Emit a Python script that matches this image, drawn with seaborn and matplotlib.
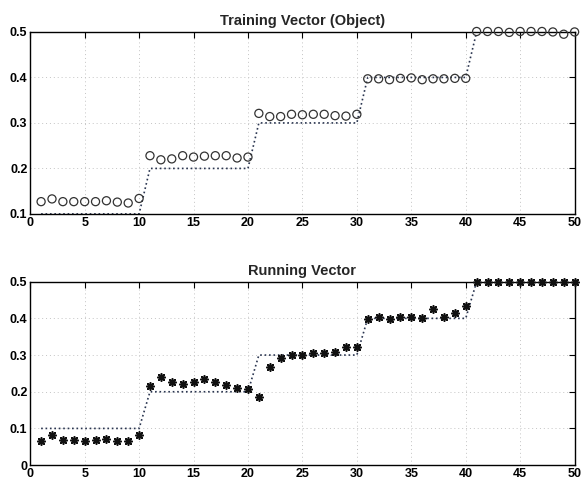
import numpy as np
import pandas as pd
import matplotlib
matplotlib.use("Agg")
import matplotlib.pyplot as plt
import seaborn as sns

# ── data ────────────────────────────────────────────────────
idx = list(range(1, 51))
target = [0.1] * 10 + [0.2] * 10 + [0.3] * 10 + [0.4] * 10 + [0.5] * 10

training = [0.127, 0.133, 0.127, 0.127, 0.127, 0.127, 0.129, 0.126, 0.124, 0.134,
            0.228, 0.219, 0.221, 0.228, 0.225, 0.227, 0.228, 0.228, 0.223, 0.225,
            0.321, 0.314, 0.314, 0.319, 0.318, 0.319, 0.319, 0.316, 0.315, 0.319,
            0.397, 0.397, 0.395, 0.398, 0.399, 0.395, 0.397, 0.397, 0.398, 0.398,
            0.501, 0.501, 0.501, 0.499, 0.501, 0.501, 0.501, 0.500, 0.495, 0.500]

running = [0.067, 0.082, 0.068, 0.068, 0.067, 0.068, 0.070, 0.065, 0.065, 0.082,
           0.215, 0.239, 0.227, 0.222, 0.227, 0.234, 0.227, 0.219, 0.210, 0.208,
           0.185, 0.267, 0.291, 0.300, 0.300, 0.305, 0.305, 0.308, 0.323, 0.323,
           0.399, 0.403, 0.399, 0.405, 0.405, 0.401, 0.425, 0.403, 0.415, 0.434,
           0.500, 0.500, 0.500, 0.500, 0.500, 0.500, 0.500, 0.500, 0.500, 0.500]

df = pd.DataFrame({"idx": idx, "target": target,
                   "training": training, "running": running})

sns.set_style("white")
plt.rcParams['font.family'] = ['Liberation Sans', 'DejaVu Sans']
plt.rcParams['font.weight'] = 'bold'

fig = plt.figure(figsize=(5.81, 4.84), dpi=100)
ax1 = fig.add_axes([0.052, 0.558, 0.937, 0.376])
ax2 = fig.add_axes([0.052, 0.039, 0.937, 0.379])


def style_axes(ax, ylo, yticks, ylabels, title):
    ax.set_xlim(0, 50)
    ax.set_ylim(ylo, 0.5)
    ax.set_xticks(range(0, 51, 5))
    ax.set_xticklabels([str(v) for v in range(0, 51, 5)], fontsize=9, fontweight='bold')
    ax.set_yticks(yticks)
    ax.set_yticklabels(ylabels, fontsize=9, fontweight='bold')
    ax.grid(True, linestyle=(0, (1, 3)), color='#c4c4c4', linewidth=0.7)
    ax.tick_params(direction='in', length=4, width=0.8, top=True, right=True,
                   pad=2, colors='black')
    for sp in ax.spines.values():
        sp.set_color('black')
        sp.set_linewidth(1.0)
    ax.set_xlabel('')
    ax.set_ylabel('')
    ax.set_title(title, fontsize=10.5, fontweight='bold', pad=5)


# top panel: training vector
sns.lineplot(data=df, x='idx', y='target', ax=ax1, color='#2a3550',
             linestyle=':', linewidth=1.2)
sns.scatterplot(data=df, x='idx', y='training', ax=ax1, marker='o',
                facecolor='none', edgecolor='#333333', s=34, linewidth=0.9,
                clip_on=False, zorder=5)
style_axes(ax1, 0.1, [0.1, 0.2, 0.3, 0.4, 0.5],
           ['0.1', '0.2', '0.3', '0.4', '0.5'], 'Training Vector (Object)')

# bottom panel: running vector
sns.lineplot(data=df, x='idx', y='target', ax=ax2, color='#2a3550',
             linestyle=':', linewidth=1.2)
sns.scatterplot(data=df, x='idx', y='running', ax=ax2, marker=(8, 2, 0),
                color='#111111', s=28, linewidth=1.2, edgecolor='#111111',
                clip_on=False, zorder=5)
sns.scatterplot(data=df, x='idx', y='running', ax=ax2, marker='o',
                color='#111111', s=9, linewidth=0, clip_on=False, zorder=6)
style_axes(ax2, 0.0, [0, 0.1, 0.2, 0.3, 0.4, 0.5],
           ['0', '0.1', '0.2', '0.3', '0.4', '0.5'], 'Running Vector')

fig.savefig('out.png', dpi=100)
